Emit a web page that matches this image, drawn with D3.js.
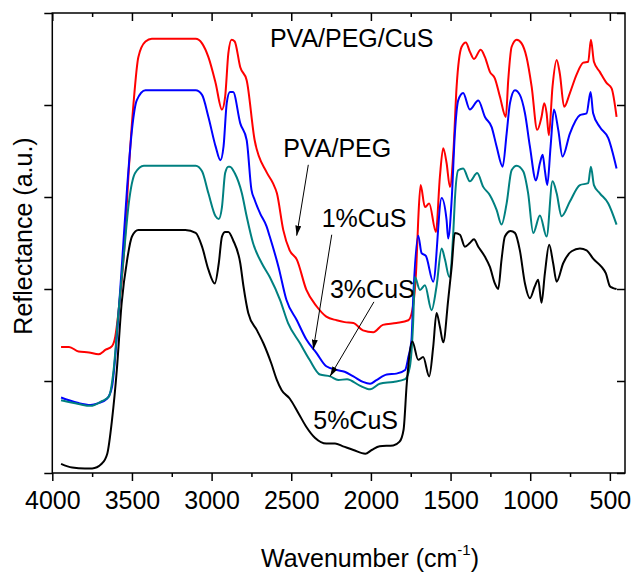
<!DOCTYPE html>
<html><head><meta charset="utf-8">
<script src="https://cdn.jsdelivr.net/npm/d3@7"></script>
<style>
body{margin:0;background:#fff}
svg{display:block}
text{font-family:"Liberation Sans",Arial,Helvetica,sans-serif;fill:#000}
</style>
</head><body>
<svg id="chart" width="633" height="572"></svg>
<script>
// ---- data (wavenumber cm^-1, reflectance a.u.) ----
const xTickValues = [4000, 3500, 3000, 2500, 2000, 1500, 1000, 500];
const xMinorTickValues = [3750, 3250, 2750, 2250, 1750, 1250, 750];
const yTickValues = [0, 1, 2, 3, 4, 5];

const pvaPeg = [[3945,1.37],[3895,1.37],[3835,1.32],[3770,1.31],[3710,1.29],[3665,1.34],[3625,1.38],[3605,1.48],[3585,1.74],[3550,2.39],[3520,3.29],[3490,4.02],[3460,4.52],[3415,4.69],[3375,4.72],[3100,4.72],[3060,4.67],[3020,4.52],[2975,4.24],[2935,3.95],[2915,4.09],[2895,4.56],[2875,4.71],[2855,4.69],[2820,4.41],[2780,4.27],[2730,3.62],[2655,3.27],[2615,3.15],[2590,3.04],[2550,2.64],[2510,2.42],[2465,2.32],[2405,1.99],[2340,1.81],[2280,1.70],[2215,1.66],[2165,1.64],[2110,1.63],[2050,1.55],[1985,1.53],[1925,1.61],[1840,1.63],[1765,1.66],[1740,1.77],[1715,2.24],[1703,2.75],[1688,3.13],[1661,2.89],[1634,2.93],[1592,2.62],[1567,3.22],[1546,3.53],[1525,3.37],[1504,3.11],[1483,3.47],[1462,4.20],[1431,4.63],[1404,4.68],[1379,4.58],[1353,4.50],[1311,4.60],[1284,4.52],[1253,4.36],[1222,4.29],[1190,4.09],[1153,3.87],[1138,4.27],[1117,4.63],[1085,4.71],[1054,4.67],[1023,4.52],[991,4.20],[956,3.73],[929,3.87],[912,4.02],[897,3.91],[883,3.67],[860,4.20],[834,4.49],[814,4.34],[787,3.98],[751,4.13],[709,4.33],[667,4.46],[636,4.47],[619,4.71],[600,4.47],[563,4.36],[521,4.24],[489,4.18],[458,3.87]];

const cus1 = [[3945,0.82],[3895,0.79],[3835,0.76],[3760,0.74],[3710,0.76],[3655,0.81],[3625,0.94],[3595,1.48],[3565,2.21],[3530,3.11],[3500,3.73],[3470,4.05],[3415,4.16],[3100,4.16],[3060,4.11],[3020,3.87],[2975,3.55],[2945,3.40],[2925,3.55],[2905,4.02],[2885,4.14],[2865,4.14],[2820,3.80],[2780,3.62],[2750,3.08],[2730,2.97],[2695,2.82],[2655,2.68],[2635,2.57],[2580,2.24],[2530,1.88],[2465,1.66],[2405,1.45],[2340,1.30],[2280,1.16],[2215,1.12],[2165,1.10],[2110,1.05],[2050,0.99],[2005,0.97],[1965,1.01],[1900,1.07],[1840,1.08],[1785,1.12],[1765,1.26],[1745,1.45],[1735,1.88],[1703,2.58],[1682,2.39],[1655,2.36],[1609,2.08],[1556,2.99],[1525,2.75],[1515,2.55],[1493,2.97],[1473,3.69],[1452,4.05],[1421,4.13],[1379,3.95],[1326,4.05],[1284,3.87],[1242,3.76],[1211,3.55],[1173,3.33],[1148,3.69],[1127,4.02],[1096,4.16],[1065,4.11],[1033,3.91],[1002,3.55],[964,3.18],[939,3.37],[922,3.46],[908,3.29],[893,3.13],[872,3.55],[851,3.95],[824,3.73],[797,3.44],[751,3.69],[688,3.89],[646,3.91],[621,4.14],[605,3.91],[563,3.76],[510,3.64],[458,3.31]];

const cus3 = [[3945,0.79],[3835,0.75],[3760,0.73],[3690,0.78],[3645,0.83],[3615,1.12],[3585,1.74],[3550,2.39],[3520,2.93],[3480,3.26],[3425,3.34],[3100,3.34],[3060,3.28],[3020,3.04],[2975,2.79],[2955,2.76],[2935,2.89],[2915,3.26],[2895,3.33],[2885,3.33],[2855,3.26],[2810,3.04],[2780,2.79],[2740,2.50],[2685,2.28],[2635,2.13],[2570,1.88],[2520,1.63],[2445,1.41],[2385,1.23],[2320,1.07],[2255,1.05],[2205,1.01],[2150,1.02],[2070,0.95],[2005,0.91],[1945,0.97],[1860,0.99],[1785,1.02],[1755,1.16],[1735,1.63],[1724,2.13],[1692,1.99],[1661,2.04],[1619,1.77],[1588,2.03],[1556,2.44],[1535,2.32],[1508,2.13],[1483,2.61],[1473,2.97],[1452,3.29],[1421,3.31],[1379,3.17],[1333,3.26],[1295,3.11],[1253,3.02],[1211,2.86],[1180,2.70],[1148,2.93],[1117,3.29],[1085,3.34],[1044,3.28],[1013,3.04],[981,2.61],[939,2.80],[897,2.57],[860,3.17],[834,3.04],[803,2.79],[751,2.95],[688,3.13],[636,3.15],[619,3.33],[600,3.13],[563,3.04],[510,2.93],[458,2.70]];

const cus5 = [[3945,0.10],[3875,0.06],[3795,0.05],[3750,0.05],[3690,0.10],[3655,0.21],[3625,0.58],[3595,1.12],[3565,1.84],[3530,2.32],[3500,2.57],[3460,2.64],[3165,2.64],[3100,2.61],[3060,2.46],[3020,2.21],[2980,2.06],[2955,2.28],[2935,2.57],[2915,2.62],[2895,2.62],[2865,2.53],[2820,2.28],[2800,2.03],[2770,1.74],[2715,1.55],[2675,1.41],[2625,1.19],[2590,1.01],[2560,0.90],[2510,0.81],[2455,0.65],[2405,0.50],[2350,0.38],[2280,0.32],[2225,0.32],[2175,0.29],[2110,0.25],[2035,0.21],[1995,0.25],[1945,0.29],[1860,0.30],[1820,0.34],[1795,0.47],[1775,0.97],[1740,1.43],[1703,1.23],[1672,1.26],[1634,1.05],[1609,1.37],[1588,1.74],[1567,1.59],[1546,1.42],[1515,1.88],[1493,2.24],[1473,2.61],[1441,2.59],[1410,2.46],[1379,2.50],[1353,2.54],[1326,2.46],[1284,2.35],[1253,2.24],[1222,2.06],[1201,2.00],[1180,2.32],[1159,2.57],[1123,2.63],[1096,2.61],[1065,2.42],[1033,2.06],[1002,1.90],[971,2.03],[950,2.10],[929,1.85],[908,2.17],[881,2.48],[856,2.28],[834,2.08],[793,2.28],[740,2.41],[688,2.44],[646,2.42],[605,2.33],[552,2.24],[525,2.17],[500,2.03],[479,2.01],[458,2.00]];

const seriesData = [pvaPeg, cus1, cus3, cus5];
const seriesColors = ["#ff0000", "#0000ff", "#008080", "#000000"];

// annotations: label text, label start (wavenumber, reflectance)
const labelTexts = ["PVA/PEG/CuS", "PVA/PEG", "1%CuS", "3%CuS", "5%CuS"];
const labelPos = [[2634, 4.63], [2550, 3.43], [2309, 2.67], [2257, 1.90], [2362, 0.48]];
// arrows: [from, to]
const arrowPos = [[[2393, 3.35], [2466, 2.58]], [[2246, 2.59], [2362, 1.34]], [[1981, 1.86], [2257, 1.05]]];

// ---- drawing ----
const svg = d3.select("#chart");
const L = 52.3, R = 625, T = 13, B = 473;
const x = d3.scaleLinear().domain([4000, 405]).range([L, R]);
const y = d3.scaleLinear().domain([0, 5]).range([B, T]);

svg.append("defs").append("marker")
  .attr("id", "ah").attr("markerUnits", "userSpaceOnUse")
  .attr("viewBox", "0 0 10 6").attr("refX", 10).attr("refY", 3)
  .attr("markerWidth", 10).attr("markerHeight", 6).attr("orient", "auto")
  .append("path").attr("d", "M0,0 L10,3 L0,6 Z").attr("fill", "#000");

const line = d3.line().x(d => x(d[0])).y(d => y(d[1])).curve(d3.curveMonotoneX);
svg.append("g").selectAll("path").data(seriesData).join("path")
  .attr("d", line).attr("fill", "none")
  .attr("stroke", (d, i) => seriesColors[i]).attr("stroke-width", 2)
  .attr("stroke-linejoin", "round");

// frame
svg.append("rect").attr("x", L).attr("y", T).attr("width", R - L).attr("height", B - T)
  .attr("fill", "none").attr("stroke", "#000").attr("stroke-width", 1.5);

// bottom axis (outward ticks)
const bottom = svg.append("g").attr("transform", `translate(0,${B})`)
  .call(d3.axisBottom(x).tickValues(xTickValues).tickSize(8).tickPadding(10).tickFormat(d3.format("d")));
svg.append("g").attr("transform", `translate(0,${B})`)
  .call(d3.axisBottom(x).tickValues(xMinorTickValues).tickSize(4).tickFormat(""));
// top axis (inward ticks)
svg.append("g").attr("transform", `translate(0,${T})`)
  .call(d3.axisBottom(x).tickValues(xTickValues).tickSize(8).tickFormat(""));
svg.append("g").attr("transform", `translate(0,${T})`)
  .call(d3.axisBottom(x).tickValues(xMinorTickValues).tickSize(4).tickFormat(""));
// left axis (outward)
svg.append("g").attr("transform", `translate(${L},0)`)
  .call(d3.axisLeft(y).tickValues(yTickValues).tickSize(8).tickFormat(""));
// right axis (inward)
svg.append("g").attr("transform", `translate(${R},0)`)
  .call(d3.axisLeft(y).tickValues(yTickValues).tickSize(8).tickFormat(""));

svg.selectAll(".domain").remove();
svg.selectAll(".tick line").attr("stroke", "#000").attr("stroke-width", 1.5);
bottom.selectAll(".tick text").style("font-size", "25px").attr("font-family", null);

// axis titles
const xt = svg.append("text").attr("x", 370).attr("y", 567).attr("text-anchor", "middle").style("font-size", "25px");
xt.append("tspan").text("Wavenumber (cm");
xt.append("tspan").text("-1").style("font-size", "15px").attr("dy", -12);
xt.append("tspan").text(")").attr("dy", 12);

svg.append("text").attr("transform", "translate(32,236) rotate(-90)")
  .attr("text-anchor", "middle").style("font-size", "25px").text("Reflectance (a.u.)");

// annotations
svg.append("g").selectAll("text").data(labelTexts).join("text")
  .attr("x", (d, i) => x(labelPos[i][0])).attr("y", (d, i) => y(labelPos[i][1]))
  .style("font-size", "25px").text(d => d);

svg.append("g").selectAll("line").data(arrowPos).join("line")
  .attr("x1", d => x(d[0][0])).attr("y1", d => y(d[0][1]))
  .attr("x2", d => x(d[1][0])).attr("y2", d => y(d[1][1]))
  .attr("stroke", "#000").attr("stroke-width", 1).attr("marker-end", "url(#ah)");
</script>
</body></html>
